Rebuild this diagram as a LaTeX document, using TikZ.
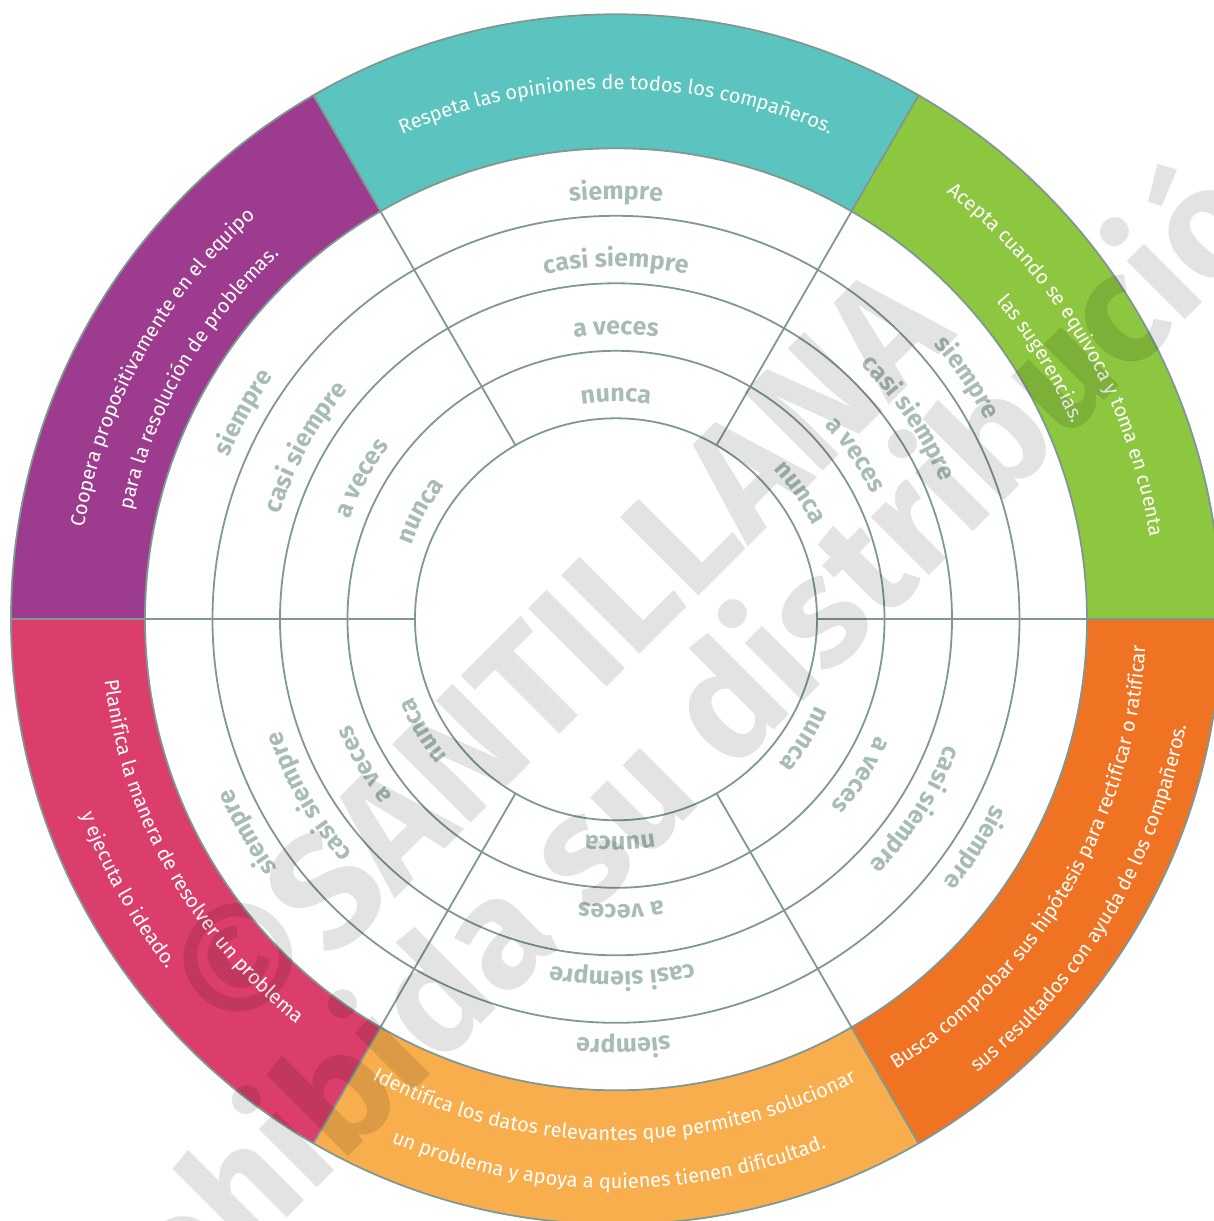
\documentclass[tikz,border=0pt]{standalone}
\usepackage{fontspec}
\setmainfont{Fira Sans}
\usetikzlibrary{decorations.text}
\definecolor{cteal}{RGB}{91,196,191}
\definecolor{cgreen}{RGB}{141,198,63}
\definecolor{corange}{RGB}{240,115,35}
\definecolor{clorange}{RGB}{249,174,77}
\definecolor{ccrimson}{RGB}{219,62,106}
\definecolor{cpurple}{RGB}{157,60,143}
\definecolor{linegray}{RGB}{128,152,146}
\definecolor{ringgray}{RGB}{168,188,182}
\newcommand\ringfont{\fontsize{25}{25}\selectfont\bfseries}
\newcommand\bandfont{\fontsize{20}{20}\selectfont}
\newcommand\ringtext[3]{%
  \path[decorate,decoration={text along path,text align=center,text color=ringgray,text={|\ringfont|#3}}]
    ({#1+50}:#2) arc[start angle={#1+50},end angle={#1-50},radius=#2];}
\newcommand\bandcw[3]{%
  \path[decorate,decoration={text along path,text align=center,text color=white,text={|\bandfont|#3}}]
    ({#1+75}:#2) arc[start angle={#1+75},end angle={#1-75},radius=#2];}
\newcommand\bandccw[3]{%
  \path[decorate,decoration={text along path,text align=center,text color=white,text={|\bandfont|#3}}]
    ({#1-75}:#2) arc[start angle={#1-75},end angle={#1+75},radius=#2];}
\begin{document}
\begin{tikzpicture}[x=1pt,y=1pt,
  gridline/.style={draw=linegray,line width=1.8pt},
  watermark/.style={text=black,text opacity=0.11,rotate=45,inner sep=0pt}]
\useasboundingbox (-616,-601.7) rectangle (598,619.3);
% coloured sectors
\foreach \a/\c in {60/cteal,0/cgreen,-60/corange,240/clorange,180/ccrimson,120/cpurple}{
  \fill[\c] (\a:471) arc[start angle=\a,end angle={\a+60},radius=471]
    -- ({\a+60}:605) arc[start angle={\a+60},end angle=\a,radius=605] -- cycle;
}
% rings and spokes
\foreach \r in {201,268.5,336,403.5,471,605}{\draw[gridline] (0,0) circle[radius=\r];}
\foreach \a in {0,60,...,300}{\draw[gridline] (\a:201) -- (\a:605);}
% ring labels
\foreach \ang in {90,34.5,-32.5,-89,210,151}{
  \ringtext{\ang}{217.5}{nunca}
  \ringtext{\ang}{285}{a veces}
  \ringtext{\ang}{352.5}{casi siempre}
  \ringtext{\ang}{420}{siempre}
}
% band texts
\bandcw{90}{530}{Respeta las opiniones de todos los compañeros.}
\bandcw{30.5}{540}{Acepta cuando se equivoca y toma en cuenta}
\bandcw{31.5}{496}{las sugerencias.}
\bandcw{151}{540}{Coopera propositivamente en el equipo}
\bandcw{150}{496}{para la resolución de problemas.}
\bandccw{-30.5}{530}{Busca comprobar sus hipótesis para rectificar o ratificar}
\bandccw{-31}{580}{sus resultados con ayuda de los compañeros.}
\bandccw{269.8}{521}{Identifica los datos relevantes que permiten solucionar}
\bandccw{269.2}{569}{un problema y apoya a quienes tienen dificultad.}
\bandccw{209.3}{515}{Planifica la manera de resolver un problema}
\bandccw{209}{569}{y ejecuta lo ideado.}
% watermark
\node[watermark,font=\fontsize{160}{160}\selectfont\bfseries] (wm1) at (-59,-33) {©SANTILLANA};
\node[watermark,font=\fontsize{155}{155}\selectfont\bfseries] (wm2) at (47,-133) {Prohibida su distribución};
\end{tikzpicture}
\end{document}
